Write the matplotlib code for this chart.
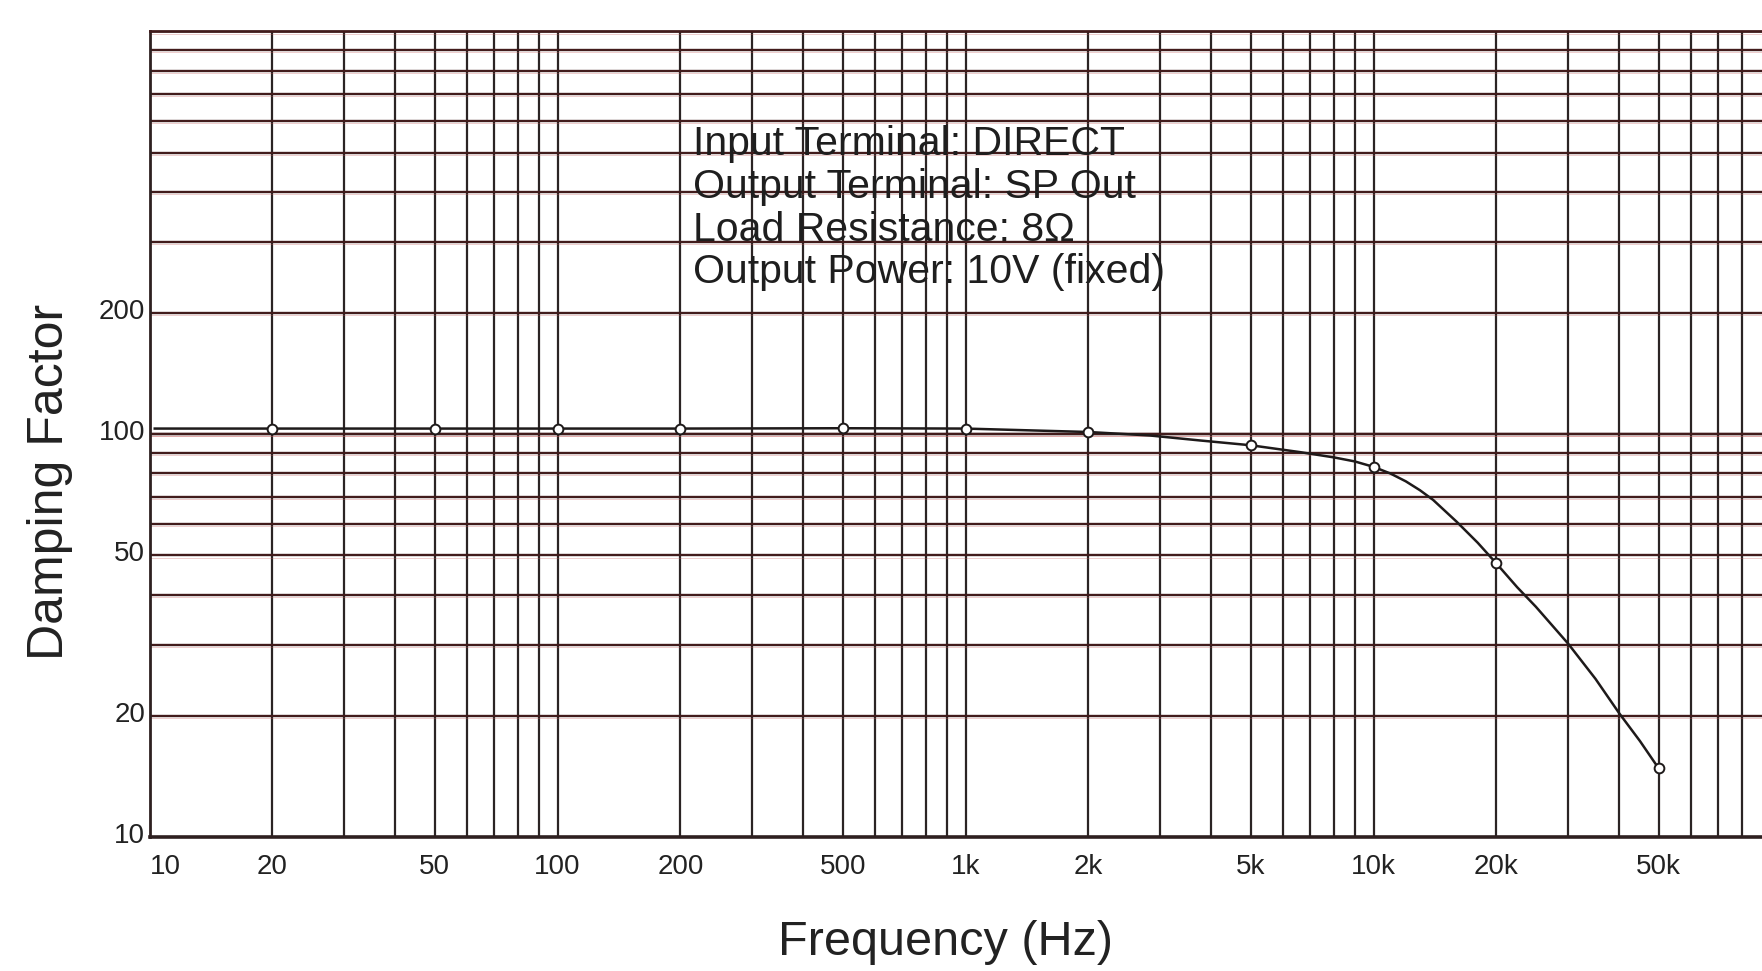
import numpy as np
import matplotlib
matplotlib.use("Agg")
import matplotlib.pyplot as plt
from matplotlib import font_manager
from matplotlib.ticker import FixedLocator, NullFormatter
import matplotlib.transforms as mtransforms

# measured damping factor, 8 ohm load, SP out
freq_pts = [20, 50, 100, 200, 500, 1000, 2000, 5000, 10000, 20000, 50000]
damp_pts = [103.3, 103.3, 103.3, 103.3, 103.5, 103.3, 101.3, 93.9, 83.0, 47.8, 14.8]

# hand-drawn trace through the points
curve_freq = [10.3, 20, 50, 100, 200, 500, 1000, 2000, 2830, 3760, 5000, 6600,
              8000, 9000, 10000, 11000, 12000, 13000, 14000, 16000, 18000, 20000,
              22500, 25000, 30000, 35000, 40000, 45000, 50000]
curve_damp = [103.3, 103.3, 103.3, 103.3, 103.3, 103.5, 103.3, 101.3, 99.3, 96.5,
              93.9, 90.3, 87.6, 85.6, 83.0, 79.9, 76.4, 72.6, 68.7, 60.6, 53.8, 47.8,
              41.7, 37.3, 30.2, 24.7, 20.3, 17.3, 14.8]

x_ticks = [10, 20, 50, 100, 200, 500, 1000, 2000, 5000, 10000, 20000, 50000]
x_labels = ["10", "20", "50", "100", "200", "500", "1k", "2k", "5k", "10k", "20k", "50k"]
y_ticks = [10, 20, 50, 100, 200]
y_labels = ["10", "20", "50", "100", "200"]

conditions = ["Input Terminal: DIRECT", "Output Terminal: SP Out",
              "Load Resistance: 8\u03a9", "Output Power: 10V (fixed)"]

installed = {f.name for f in font_manager.fontManager.ttflist}
narrow = "Liberation Sans Narrow" in installed
note_font = "Liberation Sans Narrow" if narrow else "Liberation Sans"
note_size = 34 if narrow else 29.5

W, H = 1762, 971
fig = plt.figure(figsize=(W / 100, H / 100), dpi=100)
fig.patch.set_facecolor("white")

x0, y_bot, y_top = 149.5, 837, 31.5
ax = fig.add_axes([x0 / W, 1 - y_bot / H, 1 - x0 / W, (y_bot - y_top) / H])
ax.set_xscale("log")
ax.set_yscale("log")
dec_px = 408
ax.set_xlim(10, 10 ** (1 + (W - x0) / dec_px))
ax.set_ylim(10, 1000)

# graph-paper grid
vcol = "#2b2424"
hcol = "#421c1c"
xmin, xmax = ax.get_xlim()
for d in [10, 100, 1000, 10000]:
    for m in range(1, 10):
        v = d * m
        if xmin < v < xmax:
            ax.axvline(v, color=vcol, lw=1.6, zorder=1)
for d in [10, 100]:
    for m in range(1, 11):
        v = d * m
        if 10 < v <= 1000:
            ax.axhline(v, color=hcol, lw=1.7, zorder=1)
            ax.axhline(v * 0.988, color="#c85a5a", lw=0.6, alpha=0.35, zorder=1)

ax.plot(curve_freq, curve_damp, color="#1e1a1a", lw=1.8, zorder=3)
ax.plot(freq_pts, damp_pts, ls="none", marker="o", ms=7, mfc="white",
        mec="#1e1a1a", mew=1.4, zorder=4)

ax.spines["right"].set_visible(False)
ax.spines["top"].set_color(hcol)
ax.spines["top"].set_linewidth(2)
ax.spines["left"].set_color("#2e2020")
ax.spines["left"].set_linewidth(2)
ax.spines["bottom"].set_color("#2e2020")
ax.spines["bottom"].set_linewidth(2.6)

ax.xaxis.set_major_locator(FixedLocator(x_ticks))
ax.xaxis.set_minor_formatter(NullFormatter())
ax.set_xticks([], minor=True)
ax.set_xticklabels(x_labels)
ax.yaxis.set_major_locator(FixedLocator(y_ticks))
ax.set_yticks([], minor=True)
ax.set_yticklabels(y_labels)
ax.tick_params(axis="both", length=0, labelsize=20, colors="#222222")
ax.tick_params(axis="x", pad=12)
ax.tick_params(axis="y", pad=3)
for lbl in ax.get_xticklabels() + ax.get_yticklabels():
    lbl.set_family("Liberation Sans")
ax.get_xticklabels()[0].set_horizontalalignment("left")
up = mtransforms.ScaledTranslation(0, 4 / 100, fig.dpi_scale_trans)
for lbl in ax.get_yticklabels():
    lbl.set_transform(lbl.get_transform() + up)

fig.text(50 / W, 1 - 482 / H, "Damping Factor", rotation=90, ha="center",
         va="center", fontsize=36, family="Liberation Sans", color="#222222")
fig.text(946 / W, 1 - 942 / H, "Frequency (Hz)", ha="center", va="center",
         fontsize=35, family="Liberation Sans", color="#222222")

fig.text(693 / W, 1 - 125 / H, "\n".join(conditions), ha="left", va="top",
         fontsize=note_size, family=note_font, color="#1e1e1e",
         linespacing=1.16, zorder=5)

fig.savefig("out.png", dpi=100, facecolor="white")
